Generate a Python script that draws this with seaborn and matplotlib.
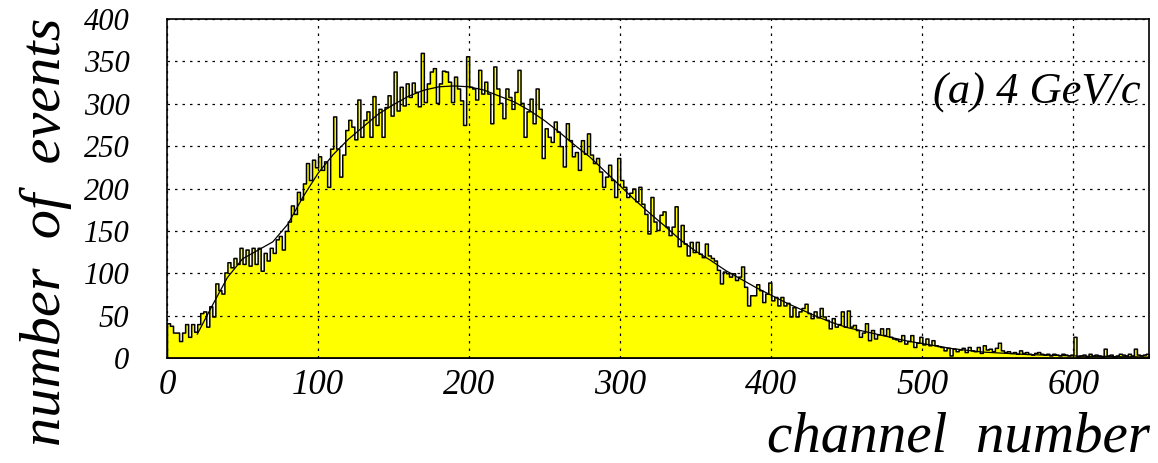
import numpy as np
import pandas as pd
import matplotlib
matplotlib.use("Agg")
import matplotlib.pyplot as plt
import seaborn as sns
from matplotlib.ticker import MultipleLocator

# ---------------- data ----------------
bin_width = 2
counts = [
    41, 38, 30, 30, 20, 30, 40, 25, 40, 31,
    40, 53, 55, 37, 61, 49, 88, 80, 76, 101,
    113, 107, 118, 111, 130, 111, 128, 109, 130, 111,
    130, 103, 124, 115, 130, 124, 140, 144, 128, 150,
    161, 180, 170, 196, 187, 206, 230, 210, 234, 225,
    238, 222, 232, 202, 247, 285, 247, 214, 240, 269,
    281, 273, 258, 305, 261, 281, 291, 261, 309, 275,
    294, 261, 296, 310, 286, 338, 292, 320, 298, 324,
    308, 325, 314, 297, 360, 302, 324, 338, 342, 301,
    324, 339, 338, 326, 302, 332, 318, 304, 275, 356,
    320, 318, 305, 340, 312, 326, 312, 277, 344, 318,
    301, 283, 318, 308, 294, 314, 340, 301, 261, 291,
    306, 277, 318, 294, 236, 271, 261, 255, 279, 267,
    250, 226, 277, 257, 238, 243, 222, 257, 241, 265,
    240, 230, 236, 220, 202, 214, 228, 210, 190, 236,
    210, 202, 190, 195, 200, 185, 202, 182, 170, 147,
    190, 161, 151, 169, 173, 155, 145, 155, 179, 132,
    157, 135, 121, 137, 125, 137, 123, 119, 135, 121,
    118, 115, 104, 88, 102, 100, 96, 100, 92, 96,
    108, 84, 62, 74, 74, 87, 80, 66, 76, 89,
    68, 72, 62, 72, 62, 65, 49, 60, 49, 55,
    59, 64, 53, 47, 55, 48, 59, 49, 45, 35,
    47, 37, 40, 55, 37, 56, 37, 39, 33, 25,
    30, 41, 21, 33, 23, 28, 35, 27, 35, 25,
    23, 22, 20, 27, 17, 20, 27, 13, 18, 25,
    16, 23, 15, 21, 15, 14, 13, 9, 12, 3,
    11, 8, 10, 12, 7, 13, 9, 8, 13, 6,
    15, 10, 11, 8, 12, 18, 9, 7, 8, 6,
    7, 5, 9, 6, 7, 5, 4, 6, 7, 5,
    4, 5, 3, 5, 4, 3, 5, 4, 3, 4,
    25, 2, 3, 4, 2, 5, 3, 4, 3, 2,
    11, 3, 4, 2, 3, 5, 4, 3, 5, 3,
    11, 4, 3, 4, 5,
]

fit_channel = [20, 30, 40, 50, 60, 70, 80, 90, 100, 110, 120, 130, 140, 150,
               160, 170, 180, 190, 200, 210, 220, 230, 240, 250, 260, 270,
               280, 290, 300, 310, 320, 330, 340, 350, 360, 370, 380, 390,
               400, 410, 420, 430, 440, 450, 460, 470, 480, 490, 500, 510,
               520, 530, 540, 550, 560, 570, 580, 590, 600, 610, 620, 630,
               640, 650]
fit_value = [28, 62, 95, 117, 127, 137, 158, 190, 218, 240, 258, 273, 288, 299,
             309, 316, 320, 321, 320, 316, 309, 302, 292, 280, 266, 251,
             237, 220, 203, 186, 170, 155, 139, 126, 115, 103, 93, 83,
             74, 65, 57, 49, 42, 36, 32, 28, 24, 20, 17, 14,
             11, 9, 7, 6, 5, 4, 3.5, 3, 2.5, 2, 2, 1.5,
             1.5, 1]

x_ticks = [0, 100, 200, 300, 400, 500, 600]
y_ticks = [0, 50, 100, 150, 200, 250, 300, 350, 400]

edges = [bin_width * i for i in range(len(counts) + 1)]
centers = [e + bin_width / 2 for e in edges[:-1]]
df = pd.DataFrame({"channel": centers, "events": counts})
fit_df = pd.DataFrame({"channel": fit_channel, "events": fit_value})

# ---------------- style ----------------
sns.set_style("white")
plt.rcParams["font.family"] = ["Liberation Serif", "DejaVu Serif"]
plt.rcParams["font.style"] = "italic"
plt.rcParams["text.color"] = "black"
plt.rcParams["xtick.color"] = "black"
plt.rcParams["ytick.color"] = "black"

fig = plt.figure(figsize=(11.58, 4.63), dpi=100)
ax = fig.add_axes([167 / 1158, 1 - 358 / 463, (1149 - 167) / 1158, (358 - 19) / 463])

sns.histplot(data=df, x="channel", weights="events", bins=edges,
             element="step", fill=True, color="#ffff00", alpha=1.0,
             edgecolor="black", linewidth=1.1, ax=ax, zorder=1)
sns.lineplot(data=fit_df, x="channel", y="events", color="black",
             linewidth=0.9, ax=ax, zorder=3)

ax.set_xlim(0, 650)
ax.set_ylim(0, 400)
ax.set_xticks(x_ticks)
ax.set_yticks(y_ticks)
ax.xaxis.set_minor_locator(MultipleLocator(20))
ax.yaxis.set_minor_locator(MultipleLocator(10))
ax.tick_params(axis="both", which="major", direction="in", length=14,
               width=1, color="black", top=False, right=False)
ax.tick_params(axis="both", which="minor", direction="in", length=9,
               width=1, color="#555555", top=False, right=False)
ax.tick_params(axis="x", labelsize=25, pad=8, labelcolor="black")
ax.tick_params(axis="y", labelsize=22, pad=27, labelcolor="black")
for lab in ax.get_xticklabels() + ax.get_yticklabels():
    lab.set_fontstyle("italic")

ax.grid(True, which="major", color="black", linestyle=(0, (2, 4)), linewidth=0.9)
ax.set_axisbelow(False)
for s in ax.spines.values():
    s.set_color("black")
    s.set_linewidth(1.2)
    s.set_visible(True)

ax.set_xlabel("")
ax.set_ylabel("")

fig.text(46 / 1158, 1 - 232 / 463, "number  of  events", rotation=90,
         ha="center", va="center", fontsize=42, fontstyle="italic", color="black")
fig.text(1150 / 1158, 1 - 452 / 463, "channel  number", ha="right",
         va="baseline", fontsize=41, fontstyle="italic", color="black")
ax.text(0.991, 0.752, "(a) 4 GeV/c", transform=ax.transAxes, ha="right",
        va="baseline", fontsize=32, fontstyle="italic", color="black")

fig.savefig("out.png", dpi=100)
